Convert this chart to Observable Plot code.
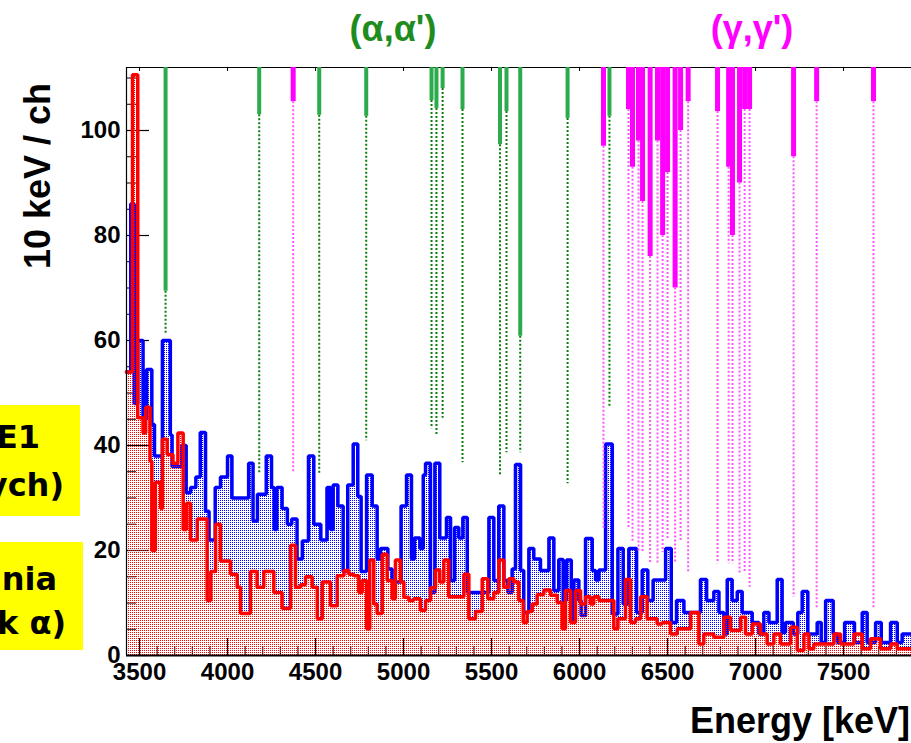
<!DOCTYPE html>
<html><head><meta charset="utf-8">
<script src="https://cdn.jsdelivr.net/npm/d3@7"></script>
<script src="https://cdn.jsdelivr.net/npm/@observablehq/plot@0.6"></script>
<style>html,body{margin:0;padding:0;background:#fff;overflow:hidden}</style>
</head><body><div id="chart"></div>
<script>
// ---------------- data ----------------
const blueStart = [3426,3450,3470,3490,3520,3540,3570,3585,3630,3675,3685,3740,3765,3790,3820,3845,3875,3895,3930,3960,4000,4025,4120,4145,4170,4220,4250,4265,4280,4310,4340,4365,4395,4425,4460,4490,4530,4565,4585,4600,4627,4657,4683,4714,4740,4759,4790,4822,4850,4869,4911,4935,4986,5017,5045,5062,5093,5112,5125,5153,5178,5206,5244,5267,5290,5314,5337,5362,5485,5513,5541,5570,5593,5617,5636,5665,5683,5712,5740,5778,5826,5854,5882,5907,5926,5953,5968,5996,6009,6034,6072,6091,6110,6148,6186,6218,6248,6280,6324,6356,6388,6418,6489,6521,6551,6593,6687,6722,6763,6792,6820,6839,6867,6896,6924,6981,7019,7047,7076,7123,7151,7170,7214,7240,7265,7297,7350,7373,7398,7441,7464,7506,7562,7606,7634,7682,7714,7767,7805,7833];
const blueCount = [54,86,48,60,45,54.5,44,38,60,42,36,40,31,32,34,42.5,27.5,22,32,34,38,30,36.6,25.6,30.7,38,32,24,32,28,25,26,18.4,21.8,38,25,22,32,24,32.5,28.5,16,32.5,40.3,30.3,16,34.4,28.5,18.4,20.4,16.5,14,28.5,34.4,18.4,22.4,20.4,34.4,36.6,12,36.6,22.4,26.3,14.3,24.4,22.4,26.3,12,26.3,14.3,28.5,14.3,12,16.5,36.4,16.2,8.2,20.4,18.4,16.2,22.4,12.4,18.3,10.5,18.2,6.7,14.4,10.5,7.6,22.3,16.2,14.4,16.3,40.3,7.9,20.4,9.8,20.4,8.2,16.3,10.5,14.4,20.4,6.3,10.5,8.2,14.5,10.5,12.2,8.2,4.1,14.5,10.5,12.2,8.2,6.3,4.1,8.2,6.3,14.5,4.4,6.3,4.1,8.2,12.2,4.1,6.3,2.5,10.5,4.1,2.5,6.3,2.5,8.2,2.5,6.3,2.5,6.3,2.5,4.1];
const redStart = [3426,3460,3490,3520,3535,3560,3570,3590,3620,3630,3657,3690,3718,3748,3767,3790,3828,3884,3905,3932,3960,4017,4055,4074,4130,4168,4206,4263,4310,4358,4386,4415,4443,4481,4510,4538,4585,4623,4661,4689,4718,4746,4765,4790,4808,4831,4850,4879,4907,4935,4954,4983,5002,5030,5058,5096,5125,5153,5182,5206,5229,5257,5343,5371,5409,5447,5479,5513,5541,5570,5598,5627,5655,5680,5702,5731,5759,5797,5835,5873,5901,5920,5949,5977,6006,6034,6062,6081,6110,6195,6218,6261,6290,6318,6347,6384,6441,6470,6517,6555,6631,6678,6706,6763,6820,6858,6915,6943,6981,7028,7066,7104,7142,7199,7237,7275,7303,7331,7445,7483,7559,7606,7653,7710,7767,7805];
const redCount = [54,110.6,45.3,42.4,47.3,37,20,33,28,41.2,38.3,36.6,42.4,24,29,22,26,10.5,16,25,18,15.5,13,8,16,13,16,12,9,21,13,13.5,15,13,7,14,9.5,15.2,16.2,15.5,15.2,12,14.3,5.1,18.2,9.8,8,19.3,14.3,10.8,18.2,14,11.1,10.5,10.8,8.6,10.5,12.9,16.3,14,18.2,11.2,15.5,7,8.4,14.6,10.8,12,18.2,13,14.6,14,10.5,6.3,8.4,9.8,11.6,12.5,11.5,10.1,5.1,12.4,6.3,12.4,9.8,11.2,9.8,11.2,10.5,5.1,7,14.5,6.3,7,11.2,7,6,6.3,4.1,5.1,8.2,2.2,4.1,3.5,7.3,4.8,7.3,4.1,6,4.1,2.2,4.1,2.2,5.4,1,4.1,1.3,2.2,4.1,2.2,4.1,1.3,3.2,1.3,2.2,1.3];
const spectrumEnd = 7890;

// (α,α') levels: energy, bottom of solid bar, bottom of dotted drop line
const alphaEnergy = [3648,4180,4521,4788,5159,5187,5222,5335,5548,5585,5663,5932,6170];
const alphaBarEnd = [69.4,103,102.9,102.7,105.7,104.2,108,104,97.3,103.6,60.8,102.3,102.7];
const alphaDotEnd = [61.4,34.6,34.6,40.9,43.2,41.8,45.2,36.7,34.4,38.6,38.6,32.7,47.5];
// (γ,γ') levels
const gammaEnergy = [4373,6136,6278,6301,6335,6358,6401,6443,6472,6500,6543,6574,6617,6784,6847,6869,6909,6938,6966,7216,7347,7670];
const gammaBarEnd = [105.5,97,104,93,98,86.5,76,98,80,92,70,100,105.5,103.6,93,80,90,104,104,95,105.5,105.5];
const gammaDotEnd = [34.6,24.1,24.1,21.5,19.6,19.6,17.5,17.5,19.6,21.9,17.7,21.9,15.6,17.5,17.5,17.5,15.6,15.6,13,11.1,8.9,8.9];

const xLabels = [3500,4000,4500,5000,5500,6000,6500,7000,7500];
const xMinor = d3.range(3500, 7900, 100);
const yLabels = [0,20,40,60,80,100];
const yMinor = d3.range(5, 112, 5);

// ---------------- build ----------------
const X0 = 3426, X1 = 7886, YTOP = 112;
const toRows = (s, c) => s.map((e, i) => ({e, v: c[i]})).concat([{e: spectrumEnd, v: c[c.length - 1]}]);
const blue = toRows(blueStart, blueCount);
const red = toRows(redStart, redCount);
const alpha = alphaEnergy.map((e, i) => ({e, b: alphaBarEnd[i], d: alphaDotEnd[i]}));
const gamma = gammaEnergy.map((e, i) => ({e, b: gammaBarEnd[i], d: gammaDotEnd[i]}));
const pxX = 785 / (X1 - X0), pxY = 588 / YTOP;

const chart = Plot.plot({
  width: 911, height: 743,
  marginLeft: 126, marginRight: 0, marginTop: 67, marginBottom: 88,
  x: {domain: [X0, X1], axis: null},
  y: {domain: [0, YTOP], axis: null},
  style: {fontFamily: "'Liberation Sans', Arial, Helvetica, sans-serif", background: "#fff", overflow: "visible"},
  marks: [
    // inner ticks (under the histograms)
    Plot.ruleX(xMinor, {x: d => d, y1: 0, y2: 9 / pxY, stroke: "#000", strokeWidth: 1}),
    Plot.ruleX(xLabels, {x: d => d, y1: 0, y2: 17 / pxY, stroke: "#000", strokeWidth: 1.2}),
    Plot.ruleY(yMinor, {y: d => d, x1: X0, x2: X0 + 10 / pxX, stroke: "#000", strokeWidth: 1}),
    Plot.ruleY(yLabels, {y: d => d, x1: X0, x2: X0 + 23 / pxX, stroke: "#000", strokeWidth: 1.2}),
    Plot.ruleX(xLabels, {x: d => d, y1: YTOP, y2: YTOP - 4 / pxY, stroke: "#000"}),
    // spectra
    Plot.areaY(blue, {x: "e", y: "v", curve: "step-after", fill: "url(#bluePat)"}),
    Plot.lineY(blue, {x: "e", y: "v", curve: "step-after", stroke: "#0000ff", strokeWidth: 3.5, strokeLinejoin: "miter"}),
    Plot.areaY(red, {x: "e", y: "v", curve: "step-after", fill: "url(#redPat)"}),
    Plot.lineY(red, {x: "e", y: "v", curve: "step-after", stroke: "#ff0000", strokeWidth: 3.5, strokeLinejoin: "miter"}),
    // frame
    Plot.ruleY([0], {stroke: "#000", strokeWidth: 2}),
    Plot.ruleY([YTOP], {stroke: "#000", strokeWidth: 1.2}),
    Plot.ruleX([X0], {y1: 0, y2: YTOP, stroke: "#000", strokeWidth: 1.2}),
    // level markers
    Plot.ruleX(alpha, {x: "e", y1: "b", y2: "d", stroke: "#0a7d0a", strokeWidth: 2, strokeDasharray: "2,2"}),
    Plot.ruleX(gamma, {x: "e", y1: "b", y2: "d", stroke: "#ff55ff", strokeWidth: 2, strokeDasharray: "2,2"}),
    Plot.ruleX(alpha, {x: "e", y1: YTOP, y2: "b", stroke: "#2bab4b", strokeWidth: 4}),
    Plot.ruleX(gamma, {x: "e", y1: YTOP, y2: "b", stroke: "#ff00ff", strokeWidth: 5}),
    // tick labels
    Plot.text(xLabels, {x: d => d, y: 0, dy: 17, text: d => String(d), fontSize: 24, fontWeight: "bold", fill: "#000"}),
    Plot.text(yLabels, {x: X0, y: d => d, dx: -6, textAnchor: "end", text: d => String(d), fontSize: 24, fontWeight: "bold", fill: "#000"})
  ]
});
document.getElementById("chart").appendChild(chart);

const svg = d3.select(chart);
const defs = svg.insert("defs", ":first-child");
function pattern(id, color) {
  const p = defs.append("pattern").attr("id", id).attr("patternUnits", "userSpaceOnUse")
    .attr("width", 2).attr("height", 2);
  p.append("rect").attr("x", 0).attr("y", 0).attr("width", 1).attr("height", 1)
    .attr("fill", color).attr("shape-rendering", "crispEdges");
}
pattern("bluePat", "#0000ff");
pattern("redPat", "#ff0000");

const font = "'Liberation Sans', Arial, Helvetica, sans-serif";
function label(txt, x, y, opts = {}) {
  const t = svg.append("text").attr("x", x).attr("y", y).text(txt)
    .attr("font-family", opts.family || font).attr("font-weight", "bold")
    .attr("font-size", opts.size || 36).attr("fill", opts.fill || "#000")
    .attr("text-anchor", opts.anchor || "start");
  if (opts.transform) t.attr("transform", opts.transform);
  return t;
}
label("10 keV / ch", 0, 0, {anchor: "middle", transform: "translate(50,176) rotate(-90)"});
label("Energy [keV]", 690, 733);
label("(α,α')", 393, 41, {anchor: "middle", fill: "#1f8c1f"});
label("(γ,γ')", 752, 41, {anchor: "middle", fill: "#ff00ff"});

// yellow legend boxes (cut at the left edge)
svg.append("rect").attr("x", 0).attr("y", 405).attr("width", 80).attr("height", 111).attr("fill", "#ffff00");
svg.append("rect").attr("x", 0).attr("y", 542).attr("width", 83).attr("height", 108).attr("fill", "#ffff00");
const boxFont = "'DejaVu Sans', Verdana, sans-serif";
label("E1", 40, 448, {family: boxFont, size: 32, anchor: "end"});
label("ych)", 64, 496, {family: boxFont, size: 32, anchor: "end"});
label("nia", 57, 590, {family: boxFont, size: 32, anchor: "end"});
label("k α)", 66, 634, {family: boxFont, size: 32, anchor: "end"});
</script>
</body></html>
